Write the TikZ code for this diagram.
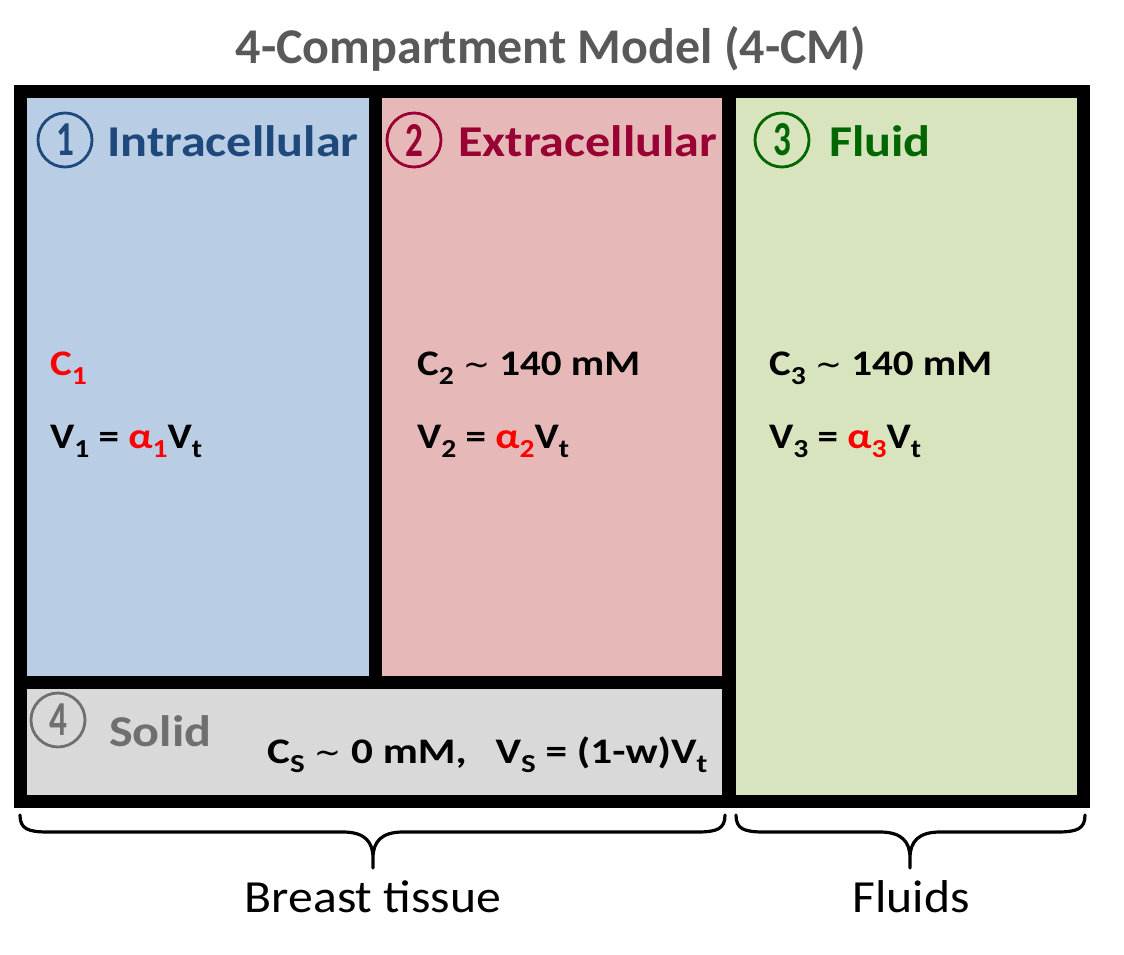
\documentclass[tikz,border=0pt]{standalone}
\usepackage{fontspec}
\setmainfont{Carlito}
\newfontfamily\wideA[FakeStretch=1.14]{Carlito}
\newfontfamily\wideB[FakeStretch=1.2]{Carlito}
\newfontfamily\wideC[FakeStretch=1.08]{Carlito}
\newfontfamily\symfont{DejaVu Sans}
\usepackage{graphicx}
\definecolor{bluef}{HTML}{B9CDE5}
\definecolor{pinkf}{HTML}{E6B9B8}
\definecolor{greenf}{HTML}{D7E4BD}
\definecolor{grayf}{HTML}{D9D9D9}
\definecolor{cone}{HTML}{1F497D}
\definecolor{ctwo}{HTML}{990033}
\definecolor{cthree}{HTML}{006600}
\definecolor{cfour}{HTML}{6F6F6F}
\definecolor{titlegray}{HTML}{595959}
\newcommand\sbs[1]{\raisebox{-0.25em}{\scalebox{0.72}{#1}}}
\newcommand\tld{{\symfont\mdseries\fontsize{32}{32}\selectfont ∼}}
\newcommand\cdig[1]{\scalebox{0.88}[1.22]{#1}}
\tikzset{
  titletext/.style={font=\fontsize{50}{50}\selectfont\bfseries, text=titlegray, inner sep=0pt},
  numcirc/.style={circle, line width=2.8pt, minimum size=54pt, inner sep=0pt, font=\fontsize{40}{40}\selectfont\bfseries},
  labtext/.style={font=\wideA\fontsize{44}{44}\selectfont\bfseries, inner sep=0pt, anchor=base west},
  eqtext/.style={font=\wideA\fontsize{36}{36}\selectfont\bfseries, inner sep=0pt, anchor=base west},
  eqstext/.style={font=\wideB\fontsize{36}{36}\selectfont\bfseries, inner sep=0pt, anchor=base west},
  bracestyle/.style={line width=3.2pt, line cap=round, line join=round},
  undertext/.style={font=\wideC\fontsize{46}{46}\selectfont, inner sep=0pt, anchor=base}
}
\begin{document}
\begin{tikzpicture}[x=1pt,y=-1pt]
\useasboundingbox (0,0) rectangle (1124,955);
% frame and compartments
\fill[black] (14,85) rectangle (1090,808);
\fill[bluef] (27,98) rectangle (369,676);
\fill[pinkf] (382,98) rectangle (722,676);
\fill[greenf] (736,98) rectangle (1077,795);
\fill[grayf] (27,689) rectangle (722,795);
% title
\node[titletext, anchor=base] (title) at (551,64) {4-Compartment Model (4-CM)};
% headers
\node[numcirc, draw=cone, text=cone] (n1) at (65,140) {\cdig{1}};
\node[labtext, text=cone] (l1) at (107,157) {Intracellular};
\node[numcirc, draw=ctwo, text=ctwo] (n2) at (414,140) {\cdig{2}};
\node[labtext, text=ctwo] (l2) at (458,157) {Extracellular};
\node[numcirc, draw=cthree, text=cthree] (n3) at (782,140) {\cdig{3}};
\node[labtext, text=cthree] (l3) at (829,157) {Fluid};
% formulas
\node[eqtext, text=red] (c1) at (50,375) {C\sbs{1}};
\node[eqtext] (v1) at (50,448) {V\sbs{1} = \textcolor{red}{α\sbs{1}}V\sbs{t}};
\node[eqtext] (c2) at (417,375) {C\sbs{2} \tld{} 140 mM};
\node[eqtext] (v2) at (417,448) {V\sbs{2} = \textcolor{red}{α\sbs{2}}V\sbs{t}};
\node[eqtext] (c3) at (769,375) {C\sbs{3} \tld{} 140 mM};
\node[eqtext] (v3) at (769,448) {V\sbs{3} = \textcolor{red}{α\sbs{3}}V\sbs{t}};
% solid
\node[numcirc, draw=cfour, text=cfour] (n4) at (58,720) {\cdig{4}};
\node[labtext, text=cfour] (l4) at (109,746) {Solid};
\node[eqstext] (cs) at (267,763) {C\sbs{S} \tld{} 0 mM,\hspace{0.8em}V\sbs{S} = (1-w)V\sbs{t}};
% braces
\draw[bracestyle] (20,815) .. controls (20,829) and (28,832) .. (48,832) -- (343,832)
  .. controls (365,832) and (373,842) .. (373,858) -- (373,868) -- (373,858)
  .. controls (373,842) and (381,832) .. (403,832) -- (697,832)
  .. controls (717,832) and (725,829) .. (725,815);
\draw[bracestyle] (736,815) .. controls (736,829) and (744,832) .. (764,832) -- (880,832)
  .. controls (902,832) and (910,842) .. (910,858) -- (910,868) -- (910,858)
  .. controls (910,842) and (918,832) .. (940,832) -- (1057,832)
  .. controls (1077,832) and (1085,829) .. (1085,815);
\node[undertext] (bt) at (373,912) {Breast tissue};
\node[undertext] (fl) at (911,912) {Fluids};
\end{tikzpicture}
\end{document}
